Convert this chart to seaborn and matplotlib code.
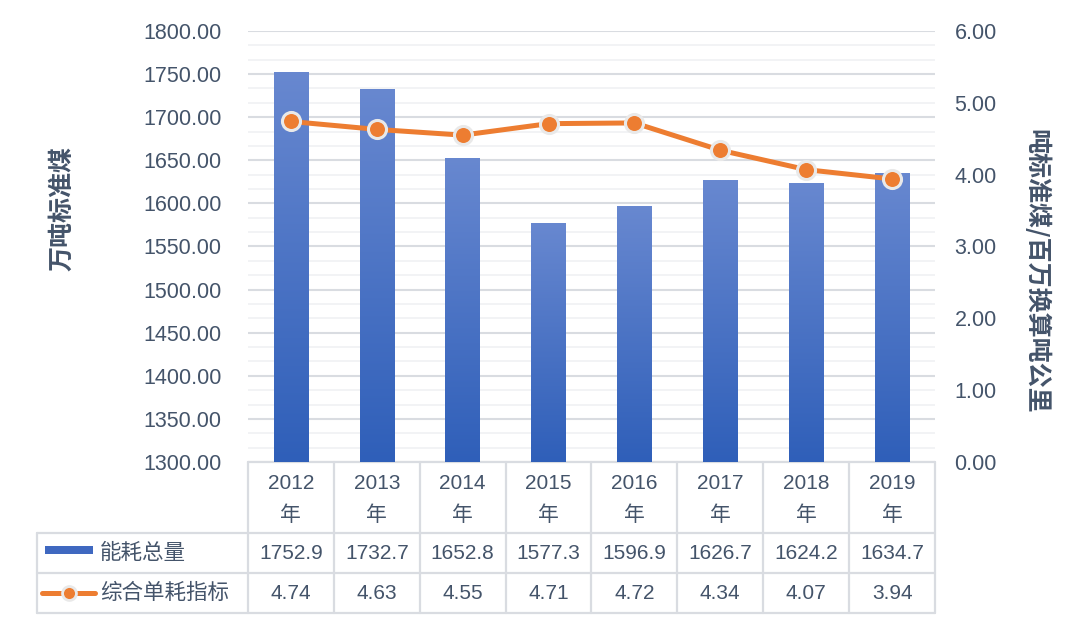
import numpy as np
import pandas as pd
import matplotlib
matplotlib.use("Agg")
import matplotlib.pyplot as plt
from matplotlib.ticker import MultipleLocator, FormatStrFormatter
from matplotlib.colors import LinearSegmentedColormap
import matplotlib.transforms as mtransforms
from matplotlib.patches import Rectangle
from matplotlib.lines import Line2D
import seaborn as sns

# ---- data ----
years = ["2012", "2013", "2014", "2015", "2016", "2017", "2018", "2019"]
energy_total = [1752.9, 1732.7, 1652.8, 1577.3, 1596.9, 1626.7, 1624.2, 1634.7]
unit_index = [4.74, 4.63, 4.55, 4.71, 4.72, 4.34, 4.07, 3.94]
series_names = ["能耗总量", "综合单耗指标"]
left_label = "万吨标准煤"
right_label = "吨标准煤/百万换算吨公里"
year_suffix = "年"

sns.set_theme(style="white")
FONT = ["Liberation Sans", "Noto Sans CJK SC", "DejaVu Sans"]
plt.rcParams["font.family"] = FONT
plt.rcParams["axes.unicode_minus"] = False

TXT = "#44546A"
GRID = "#D9DCE1"
MINOR = "#F0F1F3"
ORANGE = "#ED7D31"
BORDER = "#D9DCE1"

df = pd.DataFrame({"year": years, "total": energy_total, "unit": unit_index})

fig = plt.figure(figsize=(10.67, 6.22), dpi=100)
ax = fig.add_axes([0.2324, 0.2572, 0.6439, 0.693])

sns.barplot(data=df, x="year", y="total", ax=ax, width=0.4, color="#4472C4",
            saturation=1, zorder=3)
ax.set_ylim(1300, 1800)
ax.set_xlim(-0.5, len(years) - 0.5)

# gradient fill for bars
cmap = LinearSegmentedColormap.from_list("bg", ["#2F5FB9", "#6888D0"])
grad = np.linspace(0, 1, 256).reshape(-1, 1)
for p in ax.patches:
    x0 = p.get_x(); w = p.get_width(); h = p.get_height()
    p.set_facecolor("none"); p.set_edgecolor("none")
    im = ax.imshow(grad, cmap=cmap, origin="lower", aspect="auto",
                   extent=[x0, x0 + w, 1300, h], zorder=3)
    im.set_clip_path(p)
ax.set_xlim(-0.5, len(years) - 0.5)
ax.set_ylim(1300, 1800)

ax.yaxis.set_major_locator(MultipleLocator(50))
ax.yaxis.set_minor_locator(MultipleLocator(50 / 3))
ax.yaxis.set_major_formatter(FormatStrFormatter("%.2f"))
ax.grid(axis="y", which="major", color=GRID, linewidth=1.5, zorder=0)
ax.grid(axis="y", which="minor", color=MINOR, linewidth=1.2, zorder=0)
ax.set_axisbelow(True)
ax.tick_params(axis="y", which="both", length=0, pad=19, labelsize=15.5, labelcolor=TXT)
ax.tick_params(axis="x", length=0, labelbottom=False)
ax.set_xlabel("")
ax.set_ylabel(left_label, fontsize=18, fontweight="bold", color=TXT,
              family=["Noto Sans CJK SC"])
ax.yaxis.set_label_coords(-0.253, 0.589)
for s in ax.spines.values():
    s.set_visible(False)

ax2 = ax.twinx()
sns.lineplot(data=df, x="year", y="unit", ax=ax2, color=ORANGE, linewidth=3.6,
             marker="o", markersize=13, markerfacecolor=ORANGE,
             markeredgecolor="#E9E9E9", markeredgewidth=2.2, sort=False, zorder=5)
ax2.set_ylim(0, 6)
ax2.set_xlim(-0.5, len(years) - 0.5)
ax2.yaxis.set_major_locator(MultipleLocator(1))
ax2.yaxis.set_major_formatter(FormatStrFormatter("%.2f"))
ax2.tick_params(axis="y", length=0, pad=14, labelsize=15.5, labelcolor=TXT)
ax2.set_ylabel(right_label, fontsize=18, fontweight="bold", color=TXT, rotation=270,
               family=["Noto Sans CJK SC", "DejaVu Sans"], va="center", ha="center")
ax2.yaxis.set_label_coords(1.148, 0.443)
ax2.grid(False)
for s in ax2.spines.values():
    s.set_visible(False)

# ---- data table ----
tr = mtransforms.blended_transform_factory(ax.transData, ax.transAxes)
ppx = 1 / 431.0  # axes fraction per pixel
y_top = 0.0
y_h1 = -71 * ppx
y_r1 = -111 * ppx
y_r2 = -151 * ppx
x_left = -0.5 - 211 / 85.9
n = len(years)
lw = 1.6
def hl(x0, x1, y):
    ax.add_line(Line2D([x0, x1], [y, y], transform=tr, color=BORDER, lw=lw, clip_on=False))
def vl(x, y0, y1):
    ax.add_line(Line2D([x, x], [y0, y1], transform=tr, color=BORDER, lw=lw, clip_on=False))
hl(-0.5, n - 0.5, y_top)
for y in (y_h1, y_r1, y_r2):
    hl(x_left, n - 0.5, y)
for i in range(n + 1):
    vl(i - 0.5, y_top, y_r2)
vl(x_left, y_h1, y_r2)

for i, yr in enumerate(years):
    ax.text(i, (y_top + y_h1) / 2 - 2 * ppx, f"{yr}\n{year_suffix}", transform=tr, ha="center",
            va="center", fontsize=15, color=TXT, linespacing=1.75)
    ax.text(i, (y_h1 + y_r1) / 2, f"{energy_total[i]:.1f}", transform=tr, ha="center",
            va="center", fontsize=15, color=TXT)
    ax.text(i, (y_r1 + y_r2) / 2, f"{unit_index[i]:.2f}", transform=tr, ha="center",
            va="center", fontsize=15, color=TXT)

# legend keys inside table
px = 1 / 85.9
ym1 = (y_h1 + y_r1) / 2
ym2 = (y_r1 + y_r2) / 2
ax.add_patch(Rectangle((x_left + 8 * px, ym1 - 1 * ppx), 48 * px, 8 * ppx, transform=tr,
                       facecolor="#3F68C0", edgecolor="none", clip_on=False))
ax.add_line(Line2D([x_left + 5 * px, x_left + 58 * px], [ym2, ym2], transform=tr,
                   color=ORANGE, lw=3.6, clip_on=False))
ax.add_line(Line2D([x_left + 32 * px], [ym2], transform=tr, marker="o", markersize=10,
                   markerfacecolor=ORANGE, markeredgecolor="#E9E9E9", markeredgewidth=2,
                   clip_on=False))
ax.text(x_left + 63 * px, ym1, series_names[0], transform=tr, ha="left", va="center",
        fontsize=15.5, color=TXT, family=["Noto Sans CJK SC"])
ax.text(x_left + 63 * px, ym2, series_names[1], transform=tr, ha="left", va="center",
        fontsize=15.5, color=TXT, family=["Noto Sans CJK SC"])

fig.savefig("out.png", dpi=100, facecolor="white")
